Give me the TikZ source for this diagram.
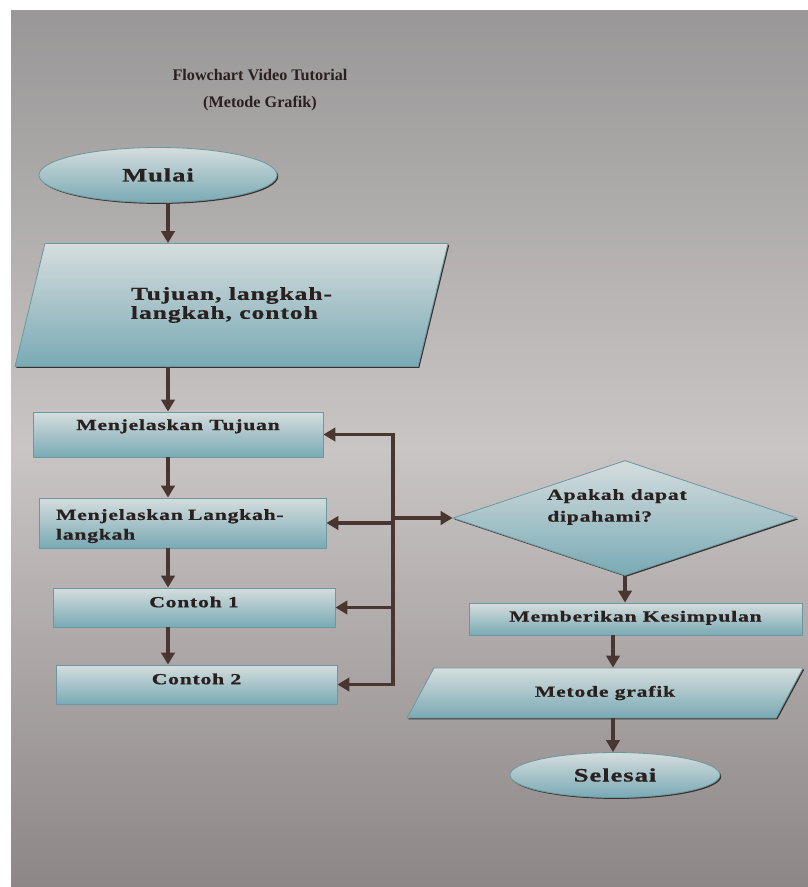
\documentclass[tikz,border=0pt]{standalone}
\usepackage{fontspec}
\setmainfont{Liberation Serif}
\newfontfamily\boxfont{Liberation Serif}[FakeStretch=1.4,LetterSpace=5,FakeBold=0.8]
\usetikzlibrary{arrows.meta,shapes.geometric,shadows}
\definecolor{paperTop}{HTML}{999797}
\definecolor{paperMid}{HTML}{C9C5C4}
\definecolor{paperBot}{HTML}{8C8686}
\definecolor{fillTop}{HTML}{D5DDDD}
\definecolor{fillBot}{HTML}{79AAB5}
\definecolor{edgeCol}{HTML}{6E98A0}
\definecolor{shadowCol}{HTML}{3A302E}
\definecolor{lineCol}{HTML}{4A3631}
\definecolor{inkCol}{HTML}{2A201F}
\def\pw{0.025cm}
\begin{document}
\begin{tikzpicture}[x=0.025cm, y=-0.025cm,
  every node/.style={text=inkCol},
  skin/.style={top color=fillTop, bottom color=fillBot, draw=edgeCol, line width=0.6pt,
    drop shadow={shadow xshift=0.9pt, shadow yshift=-1pt, fill=shadowCol, opacity=1}},
  box/.style={skin, rectangle, inner sep=0pt, text depth=8pt,
    font=\boxfont\bfseries\fontsize{11}{14}\selectfont},
  term/.style={skin, ellipse, inner sep=0pt,
    font=\boxfont\bfseries\fontsize{13.5}{16}\selectfont},
  io/.style={skin, trapezium, trapezium stretches body, inner sep=0pt},
  decision/.style={skin, diamond, inner sep=0pt},
  arr/.style={draw=lineCol, line width=2.8pt, -{Triangle[length=8.5pt,width=9.5pt]}}]
  \useasboundingbox (0,0) rectangle (808,887);
  \fill[white] (0,0) rectangle (808,887);
  \shade[top color=paperTop, bottom color=paperBot, middle color=paperMid] (11,11) rectangle (808,887);
  \coordinate (spine) at (168,0);
  \coordinate (bus) at (393,0);
  \coordinate (spineR) at (613,0);

  \node[align=center, font=\bfseries\fontsize{11.5}{19.5}\selectfont] (title) at (260,90)
    {Flowchart Video Tutorial\\(Metode Grafik)};

  \node[term, minimum width=238*\pw, minimum height=55*\pw] (mulai) at (158,175) {Mulai};
  \node[io, minimum width=433*\pw, minimum height=123*\pw, trapezium left angle=50,
    trapezium right angle=130, align=left, font=\boxfont\bfseries\fontsize{13}{13.5}\selectfont]
    (input) at (231.5,305) {Tujuan, langkah-\\langkah, contoh};
  \node[box, minimum width=290*\pw, minimum height=45*\pw, text depth=14pt] (tujuan) at (178,434.5)
    {Menjelaskan Tujuan};
  \node[box, minimum width=287*\pw, minimum height=50*\pw, text depth=12pt, text width=253*\pw,
    align=left] (langkah) at (182.5,523) {Menjelaskan Langkah-\\langkah};
  \node[box, minimum width=282*\pw, minimum height=39*\pw] (contoh1) at (194,607.5) {Contoh 1};
  \node[box, minimum width=281*\pw, minimum height=39*\pw] (contoh2) at (196.5,684.5) {Contoh 2};

  \node[decision, minimum width=344*\pw, minimum height=115*\pw] (tanya) at (625,518) {};
  \node[align=left, font=\boxfont\bfseries\fontsize{11}{15.5}\selectfont] (tanyatxt) at (617,507)
    {Apakah dapat\\dipahami?};
  \node[box, minimum width=333*\pw, minimum height=32*\pw, text depth=4pt] (simpulan) at (635.5,619)
    {Memberikan Kesimpulan};
  \node[io, minimum width=396*\pw, minimum height=50*\pw, trapezium left angle=28,
    trapezium right angle=152, font=\boxfont\bfseries\fontsize{11}{14}\selectfont]
    (output) at (605,693) {Metode grafik};
  \node[term, minimum width=210*\pw, minimum height=45*\pw] (selesai) at (615,775) {Selesai};

  \draw[arr] (mulai.south -| spine) -- (input.north -| spine);
  \draw[arr] (input.south -| spine) -- (tujuan.north -| spine);
  \draw[arr] (tujuan.south -| spine) -- (langkah.north -| spine);
  \draw[arr] (langkah.south -| spine) -- (contoh1.north -| spine);
  \draw[arr] (contoh1.south -| spine) -- (contoh2.north -| spine);

  \draw[arr] (langkah.east -| bus) |- (tujuan.east);
  \draw[arr] (langkah.east -| bus) |- (contoh2.east);
  \draw[arr] (langkah.east -| bus) -- (langkah.east);
  \draw[arr] (contoh1.east -| bus) -- (contoh1.east);
  \draw[arr] (tanya.west -| bus) -- (tanya.west);

  \draw[arr] (tanya.south) -- (tanya.south |- simpulan.north);
  \draw[arr] (simpulan.south -| spineR) -- (output.north -| spineR);
  \draw[arr] (output.south -| spineR) -- (selesai.north -| spineR);
\end{tikzpicture}
\end{document}
